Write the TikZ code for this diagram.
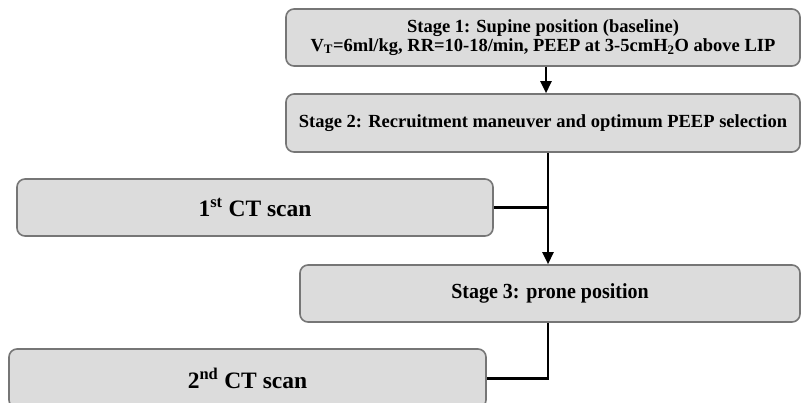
\documentclass[tikz,border=0pt]{standalone}
\usepackage{fontspec}
\setmainfont{Liberation Serif}
\newfontfamily\condserif[FakeStretch=0.93]{Liberation Serif}
\usetikzlibrary{arrows.meta}
\definecolor{boxfill}{HTML}{DCDCDC}
\definecolor{boxline}{HTML}{767676}
\tikzset{
  stagebox/.style={draw=boxline, fill=boxfill, line width=1.6pt, rounded corners=8pt,
    inner sep=0pt, align=center, font=\bfseries},
  conn/.style={line width=2.4pt, black},
  arr/.style={conn, -{Triangle[width=11pt,length=12pt]}}
}
\begin{document}
\begin{tikzpicture}[x=1pt,y=-1pt]
\useasboundingbox (0,0) rectangle (802,402);
\clip (0,0) rectangle (802,402);
\fill[white] (0,0) rectangle (802,402);
\node[stagebox, minimum width=514pt, minimum height=57pt, font=\bfseries\fontsize{18.5}{19}\selectfont]
  (b1) at (543,37.5) {Stage 1: Supine position (baseline)\\V\textsubscript{T}=6ml/kg, RR=10-18/min, PEEP at 3-5cmH\textsubscript{2}O above LIP};
\node[stagebox, minimum width=514pt, minimum height=58pt, font=\bfseries\fontsize{18.5}{18}\selectfont]
  (b2) at (543,123) {Stage 2: Recruitment maneuver and optimum PEEP selection};
\node[stagebox, minimum width=476pt, minimum height=57pt, font=\bfseries\fontsize{23.5}{24}\selectfont]
  (ct1) at (255,207.5) {1\textsuperscript{st} CT scan};
\node[stagebox, minimum width=500pt, minimum height=57pt, font=\condserif\bfseries\fontsize{21.5}{20}\selectfont]
  (b3) at (550,293.5) {Stage 3: prone position};
\node[stagebox, minimum width=477pt, minimum height=59pt, font=\bfseries\fontsize{23.5}{24}\selectfont]
  (ct2) at (247.5,378.5) {2\textsuperscript{nd} CT scan};
\draw[arr] ([xshift=3pt]b1.south) -- ([xshift=3pt]b2.north);
\draw[arr] ([xshift=5pt]b2.south) coordinate (jt) -- (jt |- b3.north);
\draw[conn] (ct1.east) -- (ct1.east -| jt);
\draw[conn] (b3.south -| jt) |- (ct2.east);
\end{tikzpicture}
\end{document}
